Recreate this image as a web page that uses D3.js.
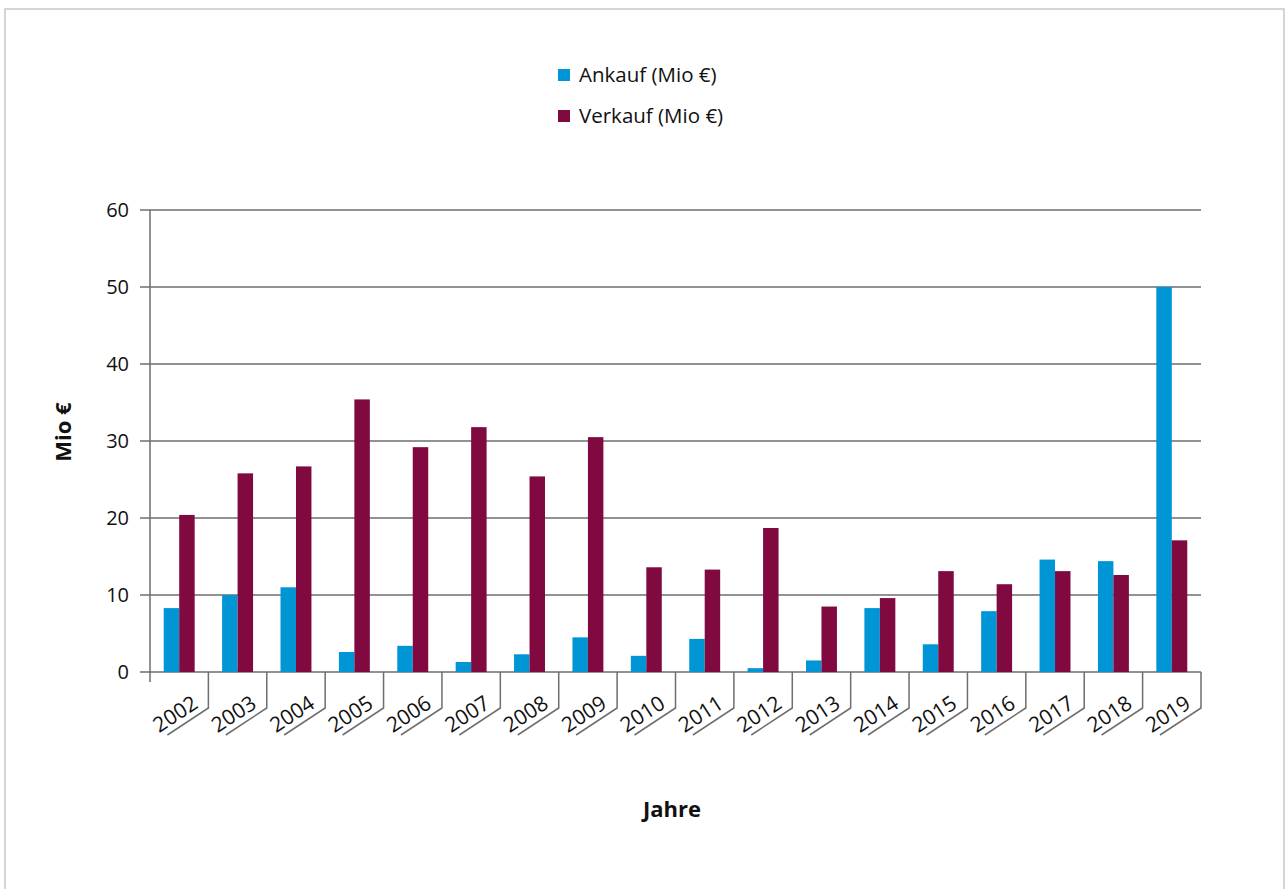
<!DOCTYPE html>
<html><head><meta charset="utf-8">
<script src="https://cdn.jsdelivr.net/npm/d3@7"></script>
<style>body{margin:0;background:#fff}svg{display:block}text{font-family:"Open Sans",sans-serif;fill:#111}</style>
</head><body>
<svg id="c" width="1285" height="889"></svg>
<script>
const years = ["2002","2003","2004","2005","2006","2007","2008","2009","2010","2011","2012","2013","2014","2015","2016","2017","2018","2019"];
const ankauf = [8.3,10.0,11.0,2.6,3.4,1.3,2.3,4.5,2.1,4.3,0.5,1.5,8.3,3.6,7.9,14.6,14.4,50.0];
const verkauf = [20.4,25.8,26.7,35.4,29.2,31.8,25.4,30.5,13.6,13.3,18.7,8.5,9.6,13.1,11.4,13.1,12.6,17.1];
const seriesNames = ["Ankauf (Mio €)","Verkauf (Mio €)"];
const yTicks = [0,10,20,30,40,50,60];
const colors = ["#0096d6","#800a40"];

const svg = d3.select("#c");
// chart border
svg.append("rect").attr("x",5).attr("y",9).attr("width",1279).attr("height",890)
  .attr("fill","none").attr("stroke","#c8c8c8").attr("stroke-width",1.5);

const L=150,R=1201,T=210,B=672;
const x0 = d3.scaleBand().domain(years).range([L,R]).paddingInner(0.47).paddingOuter(0.235);
const x1 = d3.scaleBand().domain([0,1]).range([0,x0.bandwidth()]);
const y = d3.scaleLinear().domain([0,60]).range([B,T]);
const step = x0.step();

// gridlines + y ticks
const g = svg.append("g");
g.selectAll("line.grid").data(yTicks).join("line")
  .attr("x1",140).attr("x2",R).attr("y1",d=>y(d)).attr("y2",d=>y(d))
  .attr("stroke","#6e6e6e").attr("stroke-width",1.5);
g.selectAll("text.yt").data(yTicks).join("text")
  .attr("x",129).attr("y",d=>y(d)).attr("dy","0.35em").attr("text-anchor","end")
  .attr("font-size",20).attr("fill","#111").text(d=>d);
// y axis line
g.append("line").attr("x1",L).attr("x2",L).attr("y1",T).attr("y2",B+10)
  .attr("stroke","#6e6e6e").attr("stroke-width",1.5);

// bars
const data = years.map((yr,i)=>({yr,vals:[ankauf[i],verkauf[i]]}));
const grp = svg.append("g").selectAll("g").data(data).join("g")
  .attr("transform",d=>`translate(${x0(d.yr)},0)`);
grp.selectAll("rect").data(d=>d.vals.map((v,k)=>({v,k}))).join("rect")
  .attr("x",d=>x1(d.k)).attr("width",x1.bandwidth())
  .attr("y",d=>y(d.v)).attr("height",d=>B-y(d.v))
  .attr("fill",d=>colors[d.k]);

// category label frames and labels
const ang = 33;
const dx = 41, dy = 27;
const xa = svg.append("g");
years.forEach((yr,i)=>{
  const b = x0(yr) + x0.bandwidth() + (step - x0.bandwidth())/2;
  xa.append("path").attr("d",`M${b},${B}V${B+36}L${b-dx},${B+36+dy}`)
    .attr("fill","none").attr("stroke","#6e6e6e").attr("stroke-width",1.5);
  xa.append("text").attr("text-anchor","end").attr("font-size",21)
    .attr("transform",`translate(${b-9},${B+35}) rotate(${-ang})`).text(yr);
});

// axis titles
svg.append("text").attr("x",672).attr("y",817).attr("text-anchor","middle")
  .attr("font-size",22).attr("font-weight","bold").text("Jahre");
svg.append("text").attr("transform","translate(71,432) rotate(-90)").attr("text-anchor","middle")
  .attr("font-size",22).attr("font-weight","bold").text("Mio €");

// legend
const leg = svg.append("g");
seriesNames.forEach((n,i)=>{
  const cy = 75 + i*41;
  leg.append("rect").attr("x",558).attr("y",cy-6).attr("width",12).attr("height",12).attr("fill",colors[i]);
  leg.append("text").attr("x",579).attr("y",cy).attr("dy","0.35em").attr("font-size",20.5).text(n);
});
</script>
</body></html>
